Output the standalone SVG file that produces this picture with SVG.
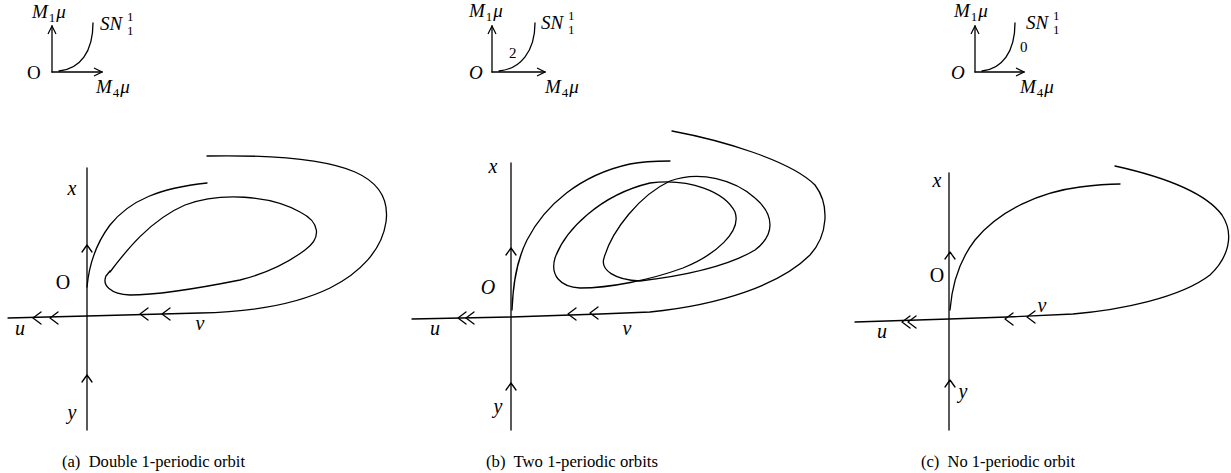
<svg xmlns="http://www.w3.org/2000/svg" width="1231" height="473" viewBox="0 0 1231 473">
<style>
.ln{fill:none;stroke:#000;stroke-width:1.3;stroke-linecap:round;stroke-linejoin:round}
.lb{font-family:"Liberation Serif",serif;font-style:italic;font-size:20px;fill:#000}
.sm{font-family:"Liberation Serif",serif;font-style:italic;font-size:19px;fill:#000}
.num{font-family:"Liberation Serif",serif;font-style:normal;font-size:13px;fill:#000}
.cap{font-family:"Liberation Serif",serif;font-size:16px;fill:#000}
</style>
<defs>
<marker id="ah" viewBox="0 0 10 10" refX="9" refY="5" markerWidth="10" markerHeight="10" markerUnits="userSpaceOnUse" orient="auto">
<path d="M1 1 L9 5 L1 9" fill="none" stroke="#000" stroke-width="1.2"/>
</marker>
<path id="chl" d="M8 -6 L0 0 L8 6" class="ln"/>
<path id="chu" d="M-5 7 L0 0 L5 7" class="ln"/>
</defs>

<!-- Top small parameter diagrams -->
<g id="param-a">
<path class="ln" d="M52 72 V26" marker-end="url(#ah)"/>
<path class="ln" d="M52 72 H102" marker-end="url(#ah)"/>
<path class="ln" d="M59 71 C80 69 93 52 93 23"/>
<text class="sm" x="32" y="18">M<tspan class="num" dy="4" dx="1">1</tspan><tspan dy="-4" dx="1">μ</tspan></text>
<text class="sm" x="100" y="30">SN</text>
<text class="num" x="127" y="35">1</text>
<text class="num" x="127" y="21">1</text>
<text class="sm" x="27" y="79" style="font-style:normal">O</text>
<text class="sm" x="96" y="93">M<tspan class="num" dy="4" dx="1">4</tspan><tspan dy="-4" dx="1">μ</tspan></text>
</g>

<g id="param-b">
<path class="ln" d="M492 72 V26" marker-end="url(#ah)"/>
<path class="ln" d="M492 72 H545" marker-end="url(#ah)"/>
<path class="ln" d="M499 71 C520 69 535 52 535 23"/>
<text class="sm" x="469" y="17">M<tspan class="num" dy="4" dx="1">1</tspan><tspan dy="-4" dx="1">μ</tspan></text>
<text class="sm" x="541" y="29">SN</text>
<text class="num" x="568" y="34">1</text>
<text class="num" x="568" y="20">1</text>
<text class="num" x="509" y="58" style="font-size:15px">2</text>
<text class="sm" x="469" y="79">O</text>
<text class="sm" x="545" y="93">M<tspan class="num" dy="4" dx="1">4</tspan><tspan dy="-4" dx="1">μ</tspan></text>
</g>

<g id="param-c">
<path class="ln" d="M975 72 V26" marker-end="url(#ah)"/>
<path class="ln" d="M975 72 H1024" marker-end="url(#ah)"/>
<path class="ln" d="M982 71 C1002 69 1015 52 1015 23"/>
<text class="sm" x="954" y="17">M<tspan class="num" dy="4" dx="1">1</tspan><tspan dy="-4" dx="1">μ</tspan></text>
<text class="sm" x="1026" y="29">SN</text>
<text class="num" x="1053" y="34">1</text>
<text class="num" x="1053" y="20">1</text>
<text class="num" x="1020" y="52" style="font-size:15px">0</text>
<text class="sm" x="951" y="79">O</text>
<text class="sm" x="1020" y="93">M<tspan class="num" dy="4" dx="1">4</tspan><tspan dy="-4" dx="1">μ</tspan></text>
</g>

<!-- Panel (a) -->
<g id="panel-a">
<path class="ln" d="M87 168 V430"/>
<path class="ln" d="M207 156 C260 155 320 157 355 172 C380 183 389 200 386 222 C382 250 360 273 330 288 C295 305 250 312 200 313 L87 316 L8 318"/>
<path class="ln" d="M87 287 C89 265 95 245 110 225 C130 200 160 188 207 183"/>
<path class="ln" d="M110 272 C125 252 150 220 185 205 C220 192 270 195 300 212 C320 222 322 238 305 250 C285 265 260 275 240 280 C200 288 160 295 130 295 C110 294 102 285 106 276 L110 271"/>
<use href="#chl" x="33" y="318"/><use href="#chl" x="50" y="318"/>
<use href="#chl" x="140" y="314"/><use href="#chl" x="162" y="314"/>
<use href="#chu" x="87" y="245"/><use href="#chu" x="87" y="375"/>
<text class="lb" x="72" y="195" text-anchor="middle">x</text>
<text class="lb" x="63" y="289" text-anchor="middle" style="font-style:normal">O</text>
<text class="lb" x="20" y="335" text-anchor="middle">u</text>
<text class="lb" x="200" y="330" text-anchor="middle">v</text>
<text class="lb" x="72" y="419" text-anchor="middle">y</text>
<text class="cap" x="62" y="467" textLength="183" lengthAdjust="spacingAndGlyphs" xml:space="preserve">(a)  Double 1-periodic orbit</text>
</g>

<!-- Panel (b) -->
<g id="panel-b">
<path class="ln" d="M511 163 V430"/>
<path class="ln" d="M672 131 C720 140 790 160 815 185 C830 205 828 235 810 255 C780 285 720 305 650 312 L600 314 L511 317 L412 319"/>
<path class="ln" d="M512 310 C513 285 516 262 527 240 C545 205 580 175 630 164 C645 161 660 161 670 161"/>
<path class="ln" d="M555 258 C565 230 600 195 650 183 C690 178 725 192 735 212 C742 232 715 255 683 268 C650 280 610 288 580 288 C560 287 550 275 555 258 Z"/>
<path class="ln" d="M604 258 C612 230 640 195 670 181 C700 170 735 180 755 198 C775 215 775 235 755 250 C730 265 690 275 640 281 C615 280 600 270 604 258 Z"/>
<use href="#chl" x="458" y="318"/><use href="#chl" x="466" y="318"/>
<use href="#chl" x="568" y="314"/><use href="#chl" x="590" y="313"/>
<use href="#chu" x="511" y="248"/><use href="#chu" x="511" y="383"/>
<text class="lb" x="493" y="173" text-anchor="middle">x</text>
<text class="lb" x="488" y="294" text-anchor="middle">O</text>
<text class="lb" x="435" y="335" text-anchor="middle">u</text>
<text class="lb" x="627" y="335" text-anchor="middle">v</text>
<text class="lb" x="498" y="413" text-anchor="middle">y</text>
<text class="cap" x="486" y="467" textLength="172" lengthAdjust="spacingAndGlyphs" xml:space="preserve">(b)  Two 1-periodic orbits</text>
</g>

<!-- Panel (c) -->
<g id="panel-c">
<path class="ln" d="M949 173 V430"/>
<path class="ln" d="M1115 166 C1160 176 1205 192 1222 215 C1235 235 1228 258 1210 275 C1180 298 1120 310 1073 314 L1007 317 L949 319 L855 322"/>
<path class="ln" d="M950 310 C952 285 958 262 975 240 C1000 210 1040 192 1080 187 C1095 185 1110 184 1120 184"/>
<use href="#chl" x="902" y="322"/><use href="#chl" x="908" y="322"/>
<use href="#chl" x="1005" y="319"/><use href="#chl" x="1027" y="317"/>
<use href="#chu" x="950" y="252"/><use href="#chu" x="950" y="380"/>
<text class="lb" x="937" y="187" text-anchor="middle">x</text>
<text class="lb" x="937" y="282" text-anchor="middle" style="font-style:normal">O</text>
<text class="lb" x="882" y="338" text-anchor="middle">u</text>
<text class="lb" x="1042" y="312" text-anchor="middle">v</text>
<text class="lb" x="963" y="398" text-anchor="middle">y</text>
<text class="cap" x="921" y="467" textLength="154" lengthAdjust="spacingAndGlyphs" xml:space="preserve">(c)  No 1-periodic orbit</text>
</g>
</svg>
